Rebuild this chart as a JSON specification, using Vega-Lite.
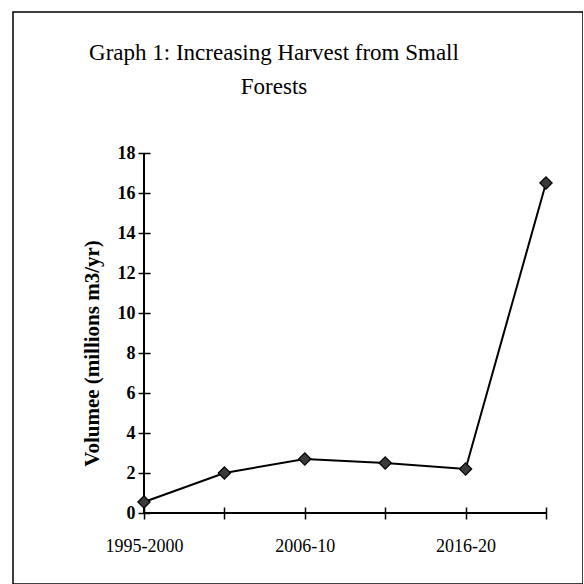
{
  "$schema": "https://vega.github.io/schema/vega-lite/v6.json",
  "width": 570,
  "height": 572,
  "autosize": {"type": "none"},
  "padding": {"left": 13, "top": 12, "right": 0, "bottom": 0},
  "background": "white",
  "config": {
    "view": {"stroke": "black", "strokeWidth": 1.5},
    "font": "Liberation Serif"
  },
  "title": {
    "text": ["Graph 1: Increasing Harvest from Small", "Forests"],
    "font": "Liberation Serif",
    "fontSize": 23,
    "fontWeight": "normal",
    "color": "black",
    "lineHeight": 34,
    "anchor": "middle",
    "frame": "group",
    "dx": -24,
    "offset": -87
  },
  "data": {
    "values": [
      {"period": "1995-2000", "volume": 0.55},
      {"period": "2001-05", "volume": 2.0},
      {"period": "2006-10", "volume": 2.7},
      {"period": "2011-15", "volume": 2.5},
      {"period": "2016-20", "volume": 2.2},
      {"period": "2021-25", "volume": 16.5}
    ]
  },
  "encoding": {
    "x": {
      "field": "period", "type": "ordinal", "sort": null,
      "scale": {"type": "point", "padding": 0, "range": [131, 533],
                "domain": ["1995-2000", "2001-05", "2006-10", "2011-15", "2016-20", "2021-25"]},
      "axis": {
        "orient": "bottom", "offset": -77, "title": null,
        "domain": false,
        "ticks": true, "tickColor": "black", "tickSize": 12, "tickWidth": 1.5,
        "labelExpr": "indexof(['2001-05','2011-15','2021-25'], datum.value) >= 0 ? '' : datum.label",
        "labelFont": "Liberation Serif", "labelFontSize": 18, "labelColor": "black",
        "labelAngle": 0, "labelPadding": 18, "labelOverlap": false, "grid": false
      }
    },
    "y": {
      "field": "volume", "type": "quantitative",
      "scale": {"domain": [0, 18], "range": [501, 141], "nice": false, "zero": true},
      "axis": {
        "orient": "left", "offset": -137,
        "values": [0, 2, 4, 6, 8, 10, 12, 14, 16, 18],
        "domain": false,
        "ticks": true, "tickColor": "black", "tickSize": 12, "tickWidth": 1.5,
        "labelFont": "Liberation Serif", "labelFontSize": 18, "labelFontWeight": "bold",
        "labelColor": "black", "labelPadding": 3, "labelOverlap": false, "grid": false,
        "title": "Volumee (millions m3/yr)",
        "titleFont": "Liberation Serif", "titleFontSize": 21, "titleFontWeight": "bold",
        "titleColor": "black", "titleAngle": -90, "titleX": -58, "titleY": 341,
        "titleAlign": "center", "titleBaseline": "middle"
      }
    }
  },
  "layer": [
    {
      "mark": {"type": "rule", "color": "black", "strokeWidth": 1.5},
      "encoding": {
        "x": {"datum": "1995-2000"},
        "y": {"datum": 0},
        "y2": {"datum": 18}
      }
    },
    {
      "mark": {"type": "rule", "color": "black", "strokeWidth": 1.5},
      "encoding": {
        "x": {"datum": "1995-2000"},
        "x2": {"datum": "2021-25"},
        "y": {"datum": 0}
      }
    },
    {
      "mark": {
        "type": "line",
        "color": "black",
        "strokeWidth": 2,
        "point": {"shape": "diamond", "size": 150, "filled": true, "fill": "#3a3a3a", "stroke": "black", "strokeWidth": 1.2, "opacity": 1}
      }
    }
  ]
}
